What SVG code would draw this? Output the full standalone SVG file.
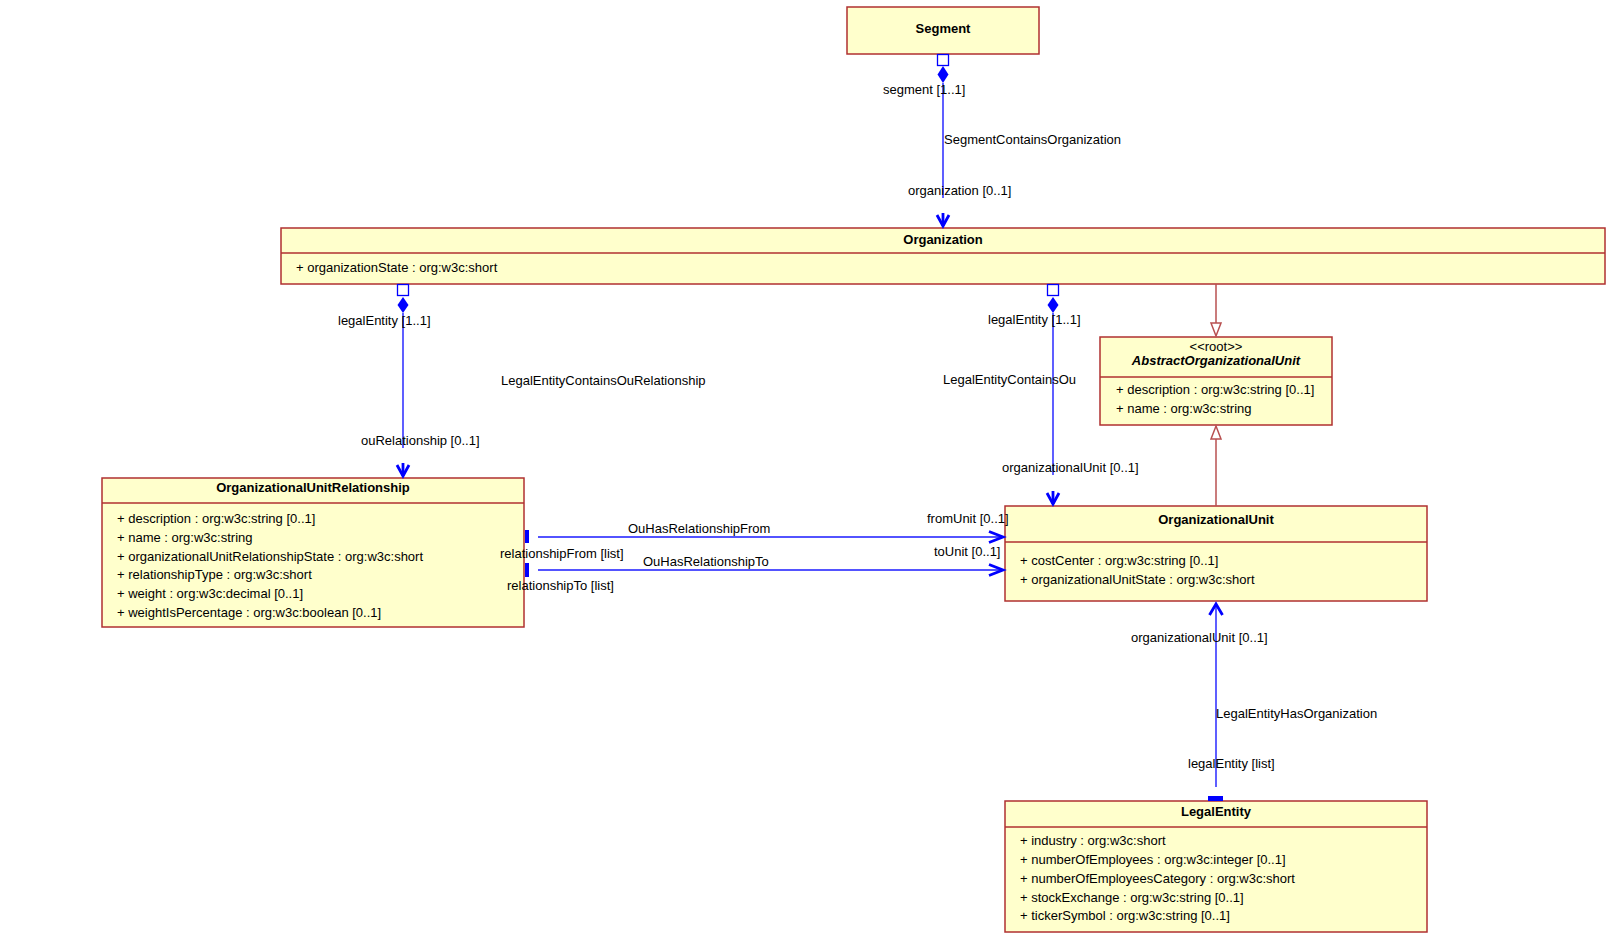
<svg xmlns="http://www.w3.org/2000/svg" width="1609" height="939" viewBox="0 0 1609 939">
<style>
text{font-family:"Liberation Sans",Arial,sans-serif;font-size:13px;fill:#000}
.t{font-weight:bold;text-anchor:middle}
.box{fill:#ffffcc;stroke:#b03030;stroke-width:1.5}
.sep{stroke:#b03030;stroke-width:1.5}
.ln{stroke:#1a1aff;stroke-width:1.4;fill:none}
.ah{stroke:#0000ff;stroke-width:2.8;fill:none;stroke-linejoin:miter}
.sq{fill:#fff;stroke:#0000ff;stroke-width:1.3}
.dm{fill:#0000ff}
.gl{stroke:#b85050;stroke-width:1.5;fill:none}
.gt{fill:#fff;stroke:#b85050;stroke-width:1.5}
</style>
<rect width="1609" height="939" fill="#fff"/>
<g id="Segment">
<rect class="box" x="847" y="7" width="192" height="47"/>
<text class="t" x="943" y="33">Segment</text>
</g>
<g id="Organization">
<rect class="box" x="281" y="228" width="1324" height="56"/>
<line class="sep" x1="281" y1="253" x2="1605" y2="253"/>
<text class="t" x="943" y="244">Organization</text>
<text x="296" y="272">+ organizationState : org:w3c:short</text>
</g>
<g id="AbstractOrganizationalUnit">
<rect class="box" x="1100" y="337" width="232" height="88"/>
<line class="sep" x1="1100" y1="377" x2="1332" y2="377"/>
<text x="1216" y="351" text-anchor="middle">&lt;&lt;root&gt;&gt;</text>
<text class="t" x="1216" y="365" font-style="italic">AbstractOrganizationalUnit</text>
<text x="1116" y="394">+ description : org:w3c:string [0..1]</text>
<text x="1116" y="413">+ name : org:w3c:string</text>
</g>
<g id="OrganizationalUnitRelationship">
<rect class="box" x="102" y="478" width="422" height="149"/>
<line class="sep" x1="102" y1="503" x2="524" y2="503"/>
<text class="t" x="313" y="492">OrganizationalUnitRelationship</text>
<text x="117" y="523">+ description : org:w3c:string [0..1]</text>
<text x="117" y="542">+ name : org:w3c:string</text>
<text x="117" y="561">+ organizationalUnitRelationshipState : org:w3c:short</text>
<text x="117" y="579">+ relationshipType : org:w3c:short</text>
<text x="117" y="598">+ weight : org:w3c:decimal [0..1]</text>
<text x="117" y="617">+ weightIsPercentage : org:w3c:boolean [0..1]</text>
</g>
<g id="OrganizationalUnit">
<rect class="box" x="1005" y="506" width="422" height="95"/>
<line class="sep" x1="1005" y1="542" x2="1427" y2="542"/>
<text class="t" x="1216" y="524">OrganizationalUnit</text>
<text x="1020" y="565">+ costCenter : org:w3c:string [0..1]</text>
<text x="1020" y="584">+ organizationalUnitState : org:w3c:short</text>
</g>
<g id="LegalEntity">
<rect class="box" x="1005" y="801" width="422" height="131"/>
<line class="sep" x1="1005" y1="827" x2="1427" y2="827"/>
<text class="t" x="1216" y="816">LegalEntity</text>
<text x="1020" y="845">+ industry : org:w3c:short</text>
<text x="1020" y="864">+ numberOfEmployees : org:w3c:integer [0..1]</text>
<text x="1020" y="883">+ numberOfEmployeesCategory : org:w3c:short</text>
<text x="1020" y="902">+ stockExchange : org:w3c:string [0..1]</text>
<text x="1020" y="920">+ tickerSymbol : org:w3c:string [0..1]</text>
</g>
<g id="connectors">
<!-- SegmentContainsOrganization -->
<rect class="sq" x="937.5" y="54.5" width="11" height="11"/>
<polygon class="dm" points="943,66 948.5,74.5 943,83 937.5,74.5"/>
<line class="ln" x1="943" y1="83" x2="943" y2="198"/>
<polyline class="ah" points="937,215 943,226 949,215"/>
<line class="ah" x1="943" y1="213" x2="943" y2="226"/>
<text x="883" y="94">segment [1..1]</text>
<text x="944" y="144">SegmentContainsOrganization</text>
<text x="908" y="195">organization [0..1]</text>
<!-- LegalEntityContainsOuRelationship -->
<rect class="sq" x="397.5" y="284.5" width="11" height="11"/>
<polygon class="dm" points="403,297 408.5,305 403,313 397.5,305"/>
<line class="ln" x1="403" y1="313" x2="403" y2="448"/>
<polyline class="ah" points="397,465 403,476 409,465"/>
<line class="ah" x1="403" y1="463" x2="403" y2="476"/>
<text x="338" y="325">legalEntity [1..1]</text>
<text x="501" y="385">LegalEntityContainsOuRelationship</text>
<text x="361" y="445">ouRelationship [0..1]</text>
<!-- LegalEntityContainsOu -->
<rect class="sq" x="1047.5" y="284.5" width="11" height="11"/>
<polygon class="dm" points="1053,297 1058.5,305 1053,313 1047.5,305"/>
<line class="ln" x1="1053" y1="313" x2="1053" y2="475"/>
<polyline class="ah" points="1047,493 1053,504 1059,493"/>
<line class="ah" x1="1053" y1="491" x2="1053" y2="504"/>
<text x="988" y="324">legalEntity [1..1]</text>
<text x="943" y="384">LegalEntityContainsOu</text>
<text x="1002" y="472">organizationalUnit [0..1]</text>
<!-- generalizations -->
<line class="gl" x1="1216" y1="284" x2="1216" y2="323"/>
<polygon class="gt" points="1211,323 1221,323 1216,336"/>
<line class="gl" x1="1216" y1="506" x2="1216" y2="439"/>
<polygon class="gt" points="1211,439 1221,439 1216,426"/>
<!-- OuHasRelationshipFrom -->
<rect class="dm" x="525" y="530" width="4" height="13"/>
<line class="ln" x1="538" y1="537" x2="1003" y2="537"/>
<polyline class="ah" points="989,531.5 1003,537 989,542.5"/>
<text x="628" y="533">OuHasRelationshipFrom</text>
<text x="500" y="558">relationshipFrom [list]</text>
<text x="927" y="523">fromUnit [0..1]</text>
<!-- OuHasRelationshipTo -->
<rect class="dm" x="525" y="563" width="4" height="14"/>
<line class="ln" x1="538" y1="570" x2="1003" y2="570"/>
<polyline class="ah" points="989,564.5 1003,570 989,575.5"/>
<text x="643" y="566">OuHasRelationshipTo</text>
<text x="507" y="590">relationshipTo [list]</text>
<text x="934" y="556">toUnit [0..1]</text>
<!-- LegalEntityHasOrganization -->
<line class="ln" x1="1216" y1="787" x2="1216" y2="604"/>
<polyline class="ah" points="1209.5,615 1216,604 1222.5,615"/>
<rect class="dm" x="1208" y="796" width="15" height="5"/>
<text x="1131" y="642">organizationalUnit [0..1]</text>
<text x="1216" y="718">LegalEntityHasOrganization</text>
<text x="1188" y="768">legalEntity [list]</text>
</g>
</svg>
